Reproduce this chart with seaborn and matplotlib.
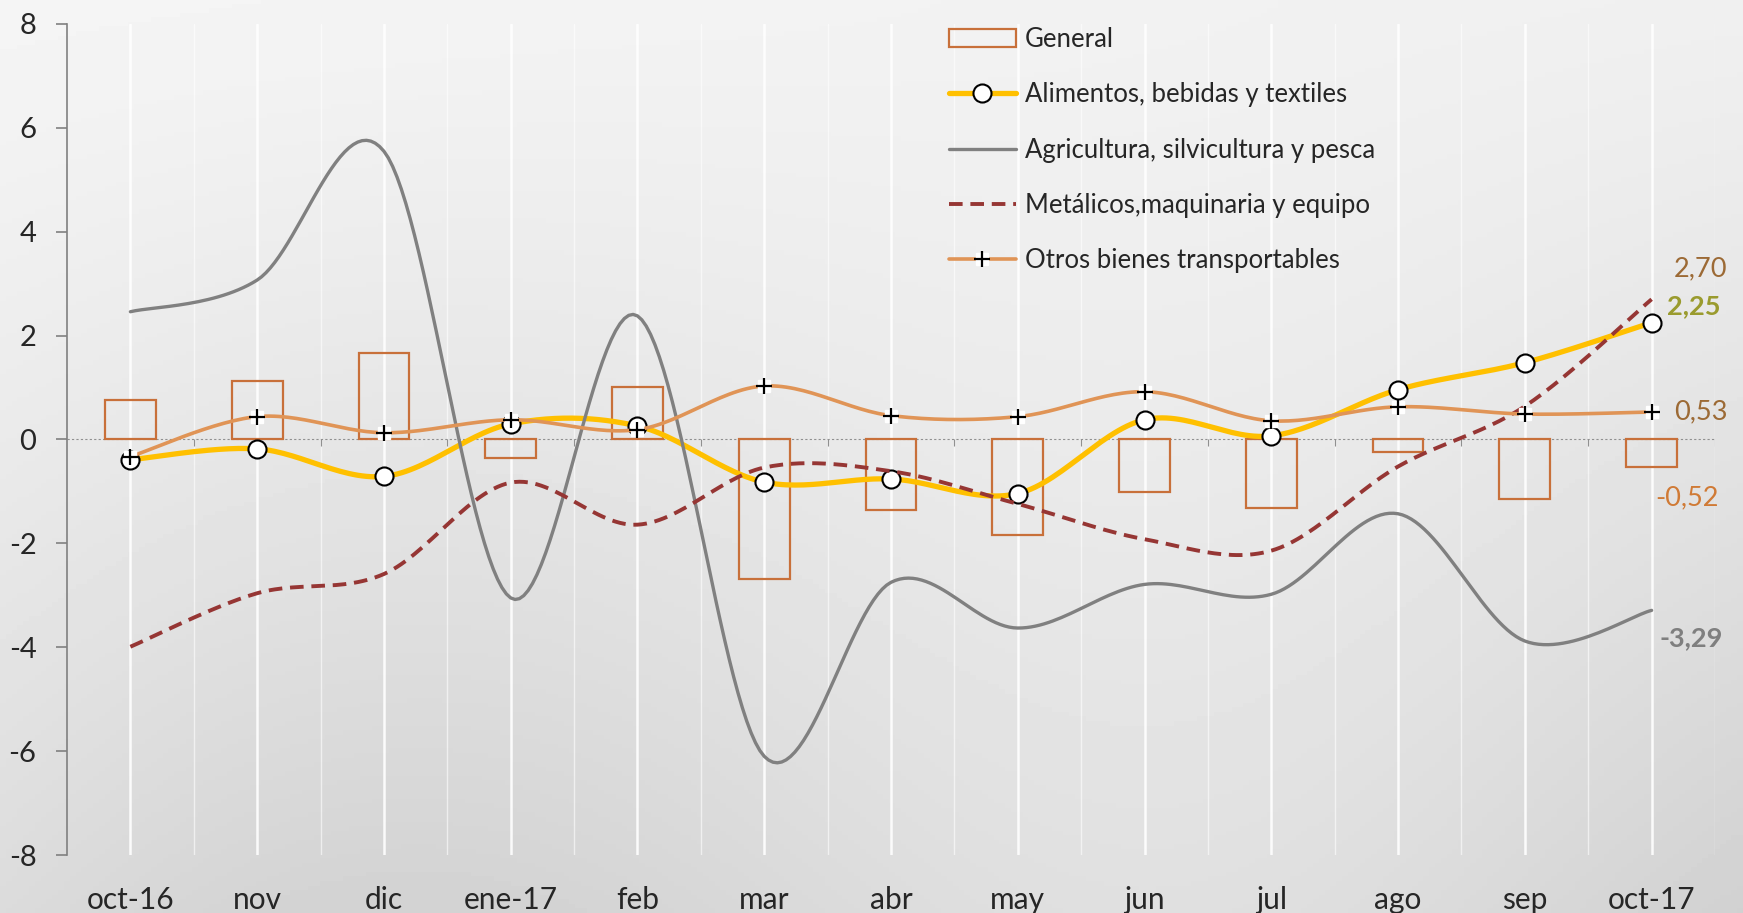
import numpy as np
import pandas as pd
import matplotlib
matplotlib.use("Agg")
import matplotlib.pyplot as plt
from matplotlib.lines import Line2D
from matplotlib.patches import Patch
import seaborn as sns

# data
months = ["oct-16", "nov", "dic", "ene-17", "feb", "mar", "abr", "may",
          "jun", "jul", "ago", "sep", "oct-17"]
general = [0.76, 1.12, 1.66, -0.36, 1.02, -2.69, -1.35, -1.84, -1.02, -1.31, -0.25, -1.15, -0.52]
alimentos = [-0.39, -0.18, -0.71, 0.30, 0.26, -0.82, -0.76, -1.04, 0.38, 0.07, 0.96, 1.48, 2.25]
agricultura = [2.46, 3.07, 5.55, -3.05, 2.38, -6.10, -2.75, -3.63, -2.79, -2.98, -1.43, -3.88, -3.29]
metalicos = [-3.99, -2.96, -2.59, -0.83, -1.64, -0.54, -0.61, -1.24, -1.92, -2.14, -0.52, 0.64, 2.70]
otros = [-0.33, 0.44, 0.13, 0.38, 0.19, 1.03, 0.46, 0.44, 0.92, 0.36, 0.63, 0.49, 0.53]

c_general = "#C8703A"
c_alim = "#FFC000"
c_agri = "#808080"
c_metal = "#963634"
c_otros = "#E09456"


def smooth(vals, n=30):
    # excel-style smoothed line (bezier through points, catmull-rom controls)
    p = np.array(vals, dtype=float)
    x = np.arange(len(p), dtype=float)
    pts = np.column_stack([x, p])
    out = []
    for i in range(len(pts) - 1):
        p0 = pts[max(i - 1, 0)]
        p1 = pts[i]
        p2 = pts[i + 1]
        p3 = pts[min(i + 2, len(pts) - 1)]
        c1 = p1 + (p2 - p0) / 6
        c2 = p2 - (p3 - p1) / 6
        t = np.linspace(0, 1, n)[:, None]
        seg = ((1 - t) ** 3) * p1 + 3 * ((1 - t) ** 2) * t * c1 + 3 * (1 - t) * t ** 2 * c2 + t ** 3 * p2
        out.append(seg if i == 0 else seg[1:])
    out = np.vstack(out)
    return pd.DataFrame({"x": out[:, 0], "y": out[:, 1]})


sns.set_theme(style="white")
plt.rcParams["font.family"] = ["Lato", "DejaVu Sans"]
plt.rcParams["axes.unicode_minus"] = False

fig = plt.figure(figsize=(17.43, 9.13), dpi=100)

# soft grey background instead of the blurred photo
bg = fig.add_axes([0, 0, 1, 1], zorder=-5)
gy = np.linspace(0, 1, 200)[:, None]
gx = np.linspace(0, 1, 300)[None, :]
grad = 0.96 - 0.10 * gy ** 1.2 - 0.03 * np.sin(gx * 7) * gy - 0.02 * gx
bg.imshow(grad, cmap="gray", vmin=0, vmax=1, aspect="auto", extent=[0, 1, 0, 1])
bg.axis("off")

ax = fig.add_axes([67 / 1743, 58 / 913, (1715 - 67) / 1743, (855 - 24) / 913])
ax.patch.set_alpha(0)

# vertical white grid lines
for i in range(len(months)):
    ax.axvline(i, color="white", lw=1.8, alpha=0.9, zorder=0)
    ax.axvline(i + 0.5, color="white", lw=1.0, alpha=0.6, zorder=0)

ax.axhline(0, color="#909090", lw=0.8, ls=(0, (2, 2)), zorder=1)
ax.vlines(np.arange(len(months)) + 0.5, -0.12, 0, color="#909090", lw=0.8, zorder=1)

df = pd.DataFrame({"mes": months, "General": general})
sns.barplot(data=df, x="mes", y="General", ax=ax, width=0.4, errorbar=None,
            color=c_general, zorder=2)
for b in ax.patches:
    b.set_facecolor("none")
    b.set_edgecolor(c_general)
    b.set_linewidth(1.6)

idx = np.arange(len(months))

sns.lineplot(data=smooth(alimentos), x="x", y="y", ax=ax, color=c_alim, lw=3.8, sort=False, zorder=3)
ax.plot(idx, alimentos, ls="none", marker="o", ms=13, mfc="white", mec="black", mew=1.5, zorder=3.5)

sns.lineplot(data=smooth(agricultura), x="x", y="y", ax=ax, color=c_agri, lw=2.4, sort=False, zorder=4)

sns.lineplot(data=smooth(metalicos), x="x", y="y", ax=ax, color=c_metal, lw=2.8, sort=False,
             linestyle=(0, (3.5, 2)), zorder=5)

sns.lineplot(data=smooth(otros), x="x", y="y", ax=ax, color=c_otros, lw=2.6, sort=False, zorder=6)
ax.plot(idx, otros, ls="none", marker="s", ms=9, mfc="white", mec="white", zorder=6.5)
ax.plot(idx, otros, ls="none", marker="+", ms=11, mec="black", mew=1.6, zorder=6.6)

ax.set_xlim(-0.5, len(months) - 0.5)
ax.set_ylim(-8, 8)
ax.set_yticks(range(-8, 9, 2))
ax.set_xticks(idx)
ax.set_xticklabels(months)
ax.set_xlabel("")
ax.set_ylabel("")
for s in ["top", "right", "bottom"]:
    ax.spines[s].set_visible(False)
ax.spines["left"].set_color("#808080")
ax.spines["left"].set_linewidth(1.2)
ax.tick_params(axis="y", direction="out", length=8, width=1.2, color="#808080",
               labelsize=21, pad=14, left=True)
ax.tick_params(axis="x", length=0, labelsize=21.5, pad=22)
ax.grid(False)

# end-of-series value labels
lab = dict(textcoords="offset pixels", ha="center", va="center", fontsize=19.5, annotation_clip=False)
ax.annotate("2,70", (12, metalicos[-1]), xytext=(49, 30), color="#9C6A35", **lab)
ax.annotate("2,25", (12, alimentos[-1]), xytext=(42, 16), color="#9A9B2E", fontweight="bold", **lab)
ax.annotate("0,53", (12, otros[-1]), xytext=(49, 0), color="#9C6A35", **lab)
ax.annotate("-0,52", (12, general[-1]), xytext=(35, -31), color="#D07A35", **lab)
ax.annotate("-3,29", (12, agricultura[-1]), xytext=(40, -28), color="#7F7F7F", fontweight="bold", **lab)

handles = [
    Patch(facecolor="none", edgecolor=c_general, lw=1.6),
    Line2D([], [], color=c_alim, lw=3.8, marker="o", ms=13, mfc="white", mec="black", mew=1.5),
    Line2D([], [], color=c_agri, lw=2.4),
    Line2D([], [], color=c_metal, lw=2.8, ls=(0, (3.5, 2))),
    (Line2D([], [], color=c_otros, lw=2.6, marker="s", ms=9, mfc="white", mec="white"),
     Line2D([], [], ls="none", marker="+", ms=11, mec="black", mew=1.6)),
]
labels = ["General", "Alimentos, bebidas y textiles", "Agricultura, silvicultura y pesca",
          "Metálicos,maquinaria y equipo", "Otros bienes transportables"]
fig.legend(handles, labels, loc="upper left", bbox_to_anchor=(949 / 1743, 1 - 27 / 913),
           frameon=False, fontsize=18.5, handlelength=2.6, handletextpad=0.35,
           labelspacing=1.18, borderpad=0, borderaxespad=0)

fig.savefig("out.png", dpi=100)
